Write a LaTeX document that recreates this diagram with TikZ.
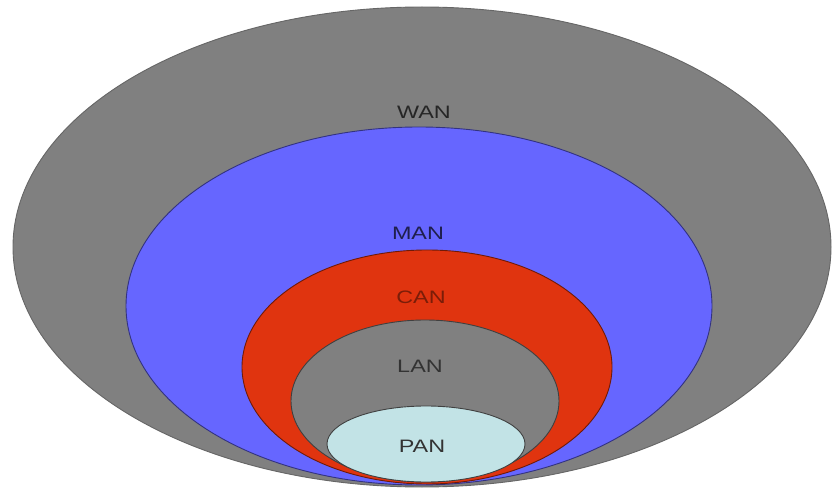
\documentclass[tikz,border=0pt]{standalone}
\usepackage{fontspec}
\setmainfont{Liberation Sans}
\usetikzlibrary{shapes.geometric}
\definecolor{netgrey}{HTML}{808080}
\definecolor{netblue}{HTML}{6666FF}
\definecolor{netred}{HTML}{E0340F}
\definecolor{netcyan}{HTML}{C2E3E6}
\begin{document}
\begin{tikzpicture}[x=1pt,y=-1pt,
  zone/.style={ellipse, inner sep=0pt, line width=0.9pt},
  tag/.style={font=\fontsize{18}{20}\selectfont, xscale=1.3, inner sep=0pt}]
  \useasboundingbox[fill=white] (0,0) rectangle (833,489);
  % nested network scopes, largest first
  \node[zone, fill=netgrey, draw=netgrey!80!black, minimum width=818pt, minimum height=480pt] (wan) at (422,247) {};
  \node[zone, fill=netblue, draw=netblue!50!black, minimum width=586pt, minimum height=358pt] (man) at (419,306) {};
  \node[zone, fill=netred, draw=netred!50!black, minimum width=370pt, minimum height=234pt] (can) at (427,367) {};
  \node[zone, fill=netgrey, draw=netgrey!50!black, minimum width=268pt, minimum height=162pt] (lan) at (425,401) {};
  \node[zone, fill=netcyan, draw=netgrey!50!black, minimum width=198pt, minimum height=76pt] (pan) at (426,444) {};
  % scope labels
  \node[tag, text=black!85] (wanlbl) at (424,112) {WAN};
  \node[tag, text=netblue!30!black] (manlbl) at (418,233) {MAN};
  \node[tag, text=netred!55!black] (canlbl) at (421,297) {CAN};
  \node[tag, text=black!80] (lanlbl) at (420,366) {LAN};
  \node[tag, text=black!80] (panlbl) at (422,446) {PAN};
\end{tikzpicture}
\end{document}
